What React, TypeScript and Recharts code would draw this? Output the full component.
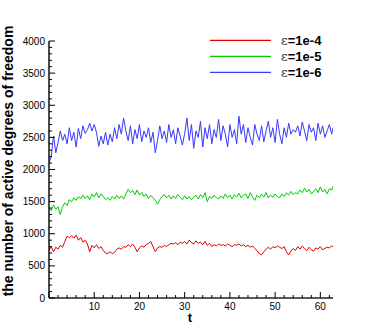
import React from 'react';
import { LineChart, Line, XAxis, YAxis } from 'recharts';

const tValues = [
  0, 0.5, 1, 1.5, 2, 2.5, 3, 3.5, 4, 4.5, 5, 5.5, 6, 6.5, 7, 7.5, 8, 8.5, 9, 9.5,
  10, 10.5, 11, 11.5, 12, 12.5, 13, 13.5, 14, 14.5, 15, 15.5, 16, 16.5, 17, 17.5, 18, 18.5, 19, 19.5,
  20, 20.5, 21, 21.5, 22, 22.5, 23, 23.5, 24, 24.5, 25, 25.5, 26, 26.5, 27, 27.5, 28, 28.5, 29, 29.5,
  30, 30.5, 31, 31.5, 32, 32.5, 33, 33.5, 34, 34.5, 35, 35.5, 36, 36.5, 37, 37.5, 38, 38.5, 39, 39.5,
  40, 40.5, 41, 41.5, 42, 42.5, 43, 43.5, 44, 44.5, 45, 45.5, 46, 46.5, 47, 47.5, 48, 48.5, 49, 49.5,
  50, 50.5, 51, 51.5, 52, 52.5, 53, 53.5, 54, 54.5, 55, 55.5, 56, 56.5, 57, 57.5, 58, 58.5, 59, 59.5,
  60, 60.5, 61, 61.5, 62, 62.5, 62.8,
];

const eps6 = [
  2100, 2200, 2520, 2260, 2420, 2600, 2450, 2550, 2400, 2650, 2450, 2580, 2350, 2640, 2480, 2680, 2560, 2620, 2720, 2600,
  2700, 2580, 2360, 2520, 2400, 2580, 2380, 2550, 2430, 2650, 2480, 2700, 2550, 2800, 2600, 2450, 2680, 2400, 2620, 2480,
  2700, 2430, 2600, 2500, 2650, 2420, 2580, 2260, 2450, 2680, 2480, 2600, 2420, 2700, 2500, 2620, 2400, 2650, 2520, 2380,
  2560, 2800, 2450, 2700, 2330, 2600, 2500, 2750, 2350, 2650, 2480, 2700, 2400, 2620, 2500, 2780, 2450, 2680, 2550, 2350,
  2700, 2500, 2620, 2400, 2830, 2550, 2700, 2420, 2650, 2500, 2380, 2700, 2550, 2450, 2680, 2430, 2600, 2750, 2500, 2650,
  2420, 2780, 2550, 2400, 2650, 2500, 2720, 2550, 2620, 2580, 2680, 2520, 2740, 2600, 2450, 2700, 2580, 2650, 2450, 2720,
  2550, 2680, 2500, 2600, 2700, 2550, 2650,
];

const eps5 = [
  1400, 1360, 1450, 1380, 1420, 1300, 1420, 1480, 1440, 1530, 1500, 1560, 1520, 1580, 1540, 1600, 1550, 1590, 1530, 1620,
  1570, 1640, 1560, 1620, 1580, 1530, 1560, 1520, 1580, 1540, 1600, 1550, 1590, 1540, 1620, 1690, 1640, 1670, 1610, 1680,
  1600, 1640, 1580, 1620, 1550, 1600, 1560, 1520, 1460, 1530, 1580, 1610, 1560, 1600, 1540, 1590, 1550, 1610, 1570, 1530,
  1590, 1540, 1580, 1530, 1570, 1600, 1540, 1610, 1560, 1640, 1500, 1580, 1550, 1600, 1560, 1540, 1590, 1550, 1620, 1560,
  1600, 1540, 1610, 1570, 1630, 1560, 1600, 1620, 1550, 1640, 1570, 1520, 1600, 1560, 1620, 1570, 1640, 1560, 1600, 1570,
  1620, 1580, 1560, 1620, 1580, 1640, 1600, 1660, 1610, 1640, 1620, 1680, 1640, 1710, 1650, 1690, 1620, 1660, 1700, 1640,
  1730, 1650, 1690, 1620, 1700, 1680, 1740,
];

const eps4 = [
  740, 800, 720, 790, 760, 820, 790, 880, 960, 940, 970, 930, 980, 900, 940, 870, 900, 840, 720, 820,
  780, 830, 770, 800, 740, 700, 690, 720, 690, 710, 760, 780, 760, 800, 790, 830, 800, 840, 790, 720,
  780, 810, 790, 830, 850, 880, 800, 720, 780, 800, 790, 820, 800, 830, 850, 840, 860, 830, 870, 850,
  880, 840, 900, 860, 840, 890, 850, 870, 830, 880, 820, 850, 800, 830, 810, 840, 820, 830, 810, 840,
  820, 800, 830, 820, 840, 810, 830, 800, 820, 790, 810, 770, 740, 690, 670, 720, 760, 790, 760, 800,
  780, 810, 790, 770, 800, 720, 670, 730, 770, 740, 800, 760, 810, 770, 740, 790, 750, 730, 780, 760,
  800, 750, 770, 790, 780, 810, 800,
];

const seriesNames = ['ε=1e-4', 'ε=1e-5', 'ε=1e-6'];
const seriesColors = ['#e00000', '#00cc00', '#3838ff'];

const xTicks = [0, 2, 4, 6, 8, 10, 12, 14, 16, 18, 20, 22, 24, 26, 28, 30, 32, 34, 36, 38, 40, 42, 44, 46, 48, 50, 52, 54, 56, 58, 60, 62];
const yTicks = [
  0, 100, 200, 300, 400, 500, 600, 700, 800, 900, 1000, 1100, 1200, 1300, 1400, 1500, 1600, 1700, 1800, 1900,
  2000, 2100, 2200, 2300, 2400, 2500, 2600, 2700, 2800, 2900, 3000, 3100, 3200, 3300, 3400, 3500, 3600, 3700, 3800, 3900, 4000,
];

const data = tValues.map((t, i) => ({ t, a: eps4[i], b: eps5[i], c: eps6[i] }));

const FONT = 'Arial, "Liberation Sans", Helvetica, sans-serif';

const YTick = (props: any) => {
  const { x, y, payload } = props;
  const v = payload.value;
  const major = v % 500 === 0;
  return (
    <g>
      <line x1={x} x2={x + (major ? 6 : 3)} y1={y} y2={y} stroke="#000" strokeWidth={1} />
      {major && (
        <text x={x - 4} y={y} dy={3.6} textAnchor="end" fontSize={10} fontFamily={FONT} fill="#000">
          {v}
        </text>
      )}
    </g>
  );
};

const XTick = (props: any) => {
  const { x, y, payload } = props;
  const v = payload.value;
  const major = v % 10 === 0;
  return (
    <g>
      <line x1={x} x2={x} y1={y} y2={y - (major ? 6 : 3)} stroke="#000" strokeWidth={1} />
      {major && v !== 0 && (
        <text x={x} y={y + 12} textAnchor="middle" fontSize={10} fontFamily={FONT} fill="#000">
          {v}
        </text>
      )}
    </g>
  );
};

const LegendBox = () => (
  <svg width={140} height={52} style={{ position: 'absolute', left: 205, top: 30, display: 'block' }}>
    {seriesNames.map((name, i) => (
      <g key={name}>
        <line x1={5} x2={66} y1={10.3 + i * 16} y2={10.3 + i * 16} stroke={seriesColors[i]} strokeWidth={1.2} />
        <text x={76} y={10.3 + i * 16 + 4.6} fontSize={13} fontFamily={FONT} fontWeight="bold" fill="#000">
          <tspan fontFamily="'DejaVu Serif', 'Liberation Serif', serif" fontWeight="normal" fill="#333">ε</tspan>
          <tspan>{name.slice(1)}</tspan>
        </text>
      </g>
    ))}
  </svg>
);

export default function App() {
  return (
    <div style={{ position: 'absolute', left: 0, top: 0, width: 378, height: 336, background: '#fff' }}>
      <LineChart width={378} height={336} data={data} margin={{ top: 41, right: 45, bottom: 0, left: 0 }}>
        <XAxis
          dataKey="t"
          type="number"
          domain={[0, 62.8]}
          ticks={xTicks}
          interval={0}
          tick={<XTick />}
          tickLine={false}
          tickSize={0}
          tickMargin={0}
          height={38}
          axisLine={{ stroke: '#222', strokeWidth: 1.5 }}
          allowDataOverflow
          label={{
            content: () => (
              <text x={190} y={322} textAnchor="middle" fontSize={13} fontWeight="bold" fontFamily={FONT} fill="#000">
                t
              </text>
            ),
          }}
        />
        <YAxis
          type="number"
          domain={[0, 4000]}
          ticks={yTicks}
          interval={0}
          tick={<YTick />}
          tickLine={false}
          tickSize={0}
          tickMargin={0}
          width={49}
          axisLine={{ stroke: '#111', strokeWidth: 1.5 }}
          label={{
            content: () => (
              <text
                x={13}
                y={161}
                transform="rotate(-90, 13, 161)"
                textAnchor="middle"
                fontSize={14}
                fontWeight="bold"
                fontFamily={FONT}
                fill="#000"
              >
                the number of active degrees of freedom
              </text>
            ),
          }}
        />
        <Line dataKey="a" stroke={seriesColors[0]} strokeWidth={1} dot={false} isAnimationActive={false} name={seriesNames[0]} />
        <Line dataKey="b" stroke={seriesColors[1]} strokeWidth={1} dot={false} isAnimationActive={false} name={seriesNames[1]} />
        <Line dataKey="c" stroke={seriesColors[2]} strokeWidth={1} dot={false} isAnimationActive={false} name={seriesNames[2]} />
      </LineChart>
      <LegendBox />
    </div>
  );
}
